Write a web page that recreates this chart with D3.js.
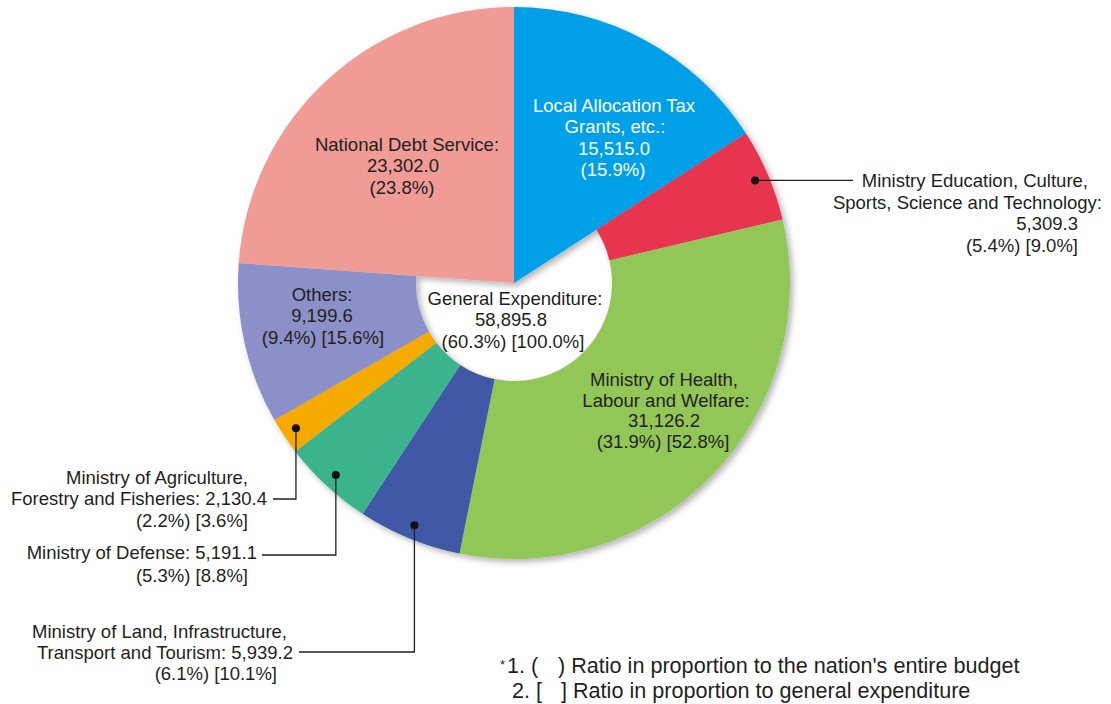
<!DOCTYPE html>
<html>
<head>
<meta charset="utf-8">
<script src="https://cdn.jsdelivr.net/npm/d3@7"></script>
<style>
  html, body { margin: 0; padding: 0; background: #fff; }
  svg { display: block; }
  text { font-family: "Helvetica Neue", Helvetica, Arial, "Liberation Sans", sans-serif; fill: #231f20; }
</style>
</head>
<body>
<div id="chart"></div>
<script>
// slices, clockwise from 12 o'clock
var names = ["Local Allocation Tax Grants, etc.", "Ministry Education, Culture, Sports, Science and Technology",
  "Ministry of Health, Labour and Welfare", "Ministry of Land, Infrastructure, Transport and Tourism",
  "Ministry of Defense", "Ministry of Agriculture, Forestry and Fisheries", "Others", "National Debt Service"];
var values = [15515.0, 5309.3, 31126.2, 5939.2, 5191.1, 2130.4, 9199.6, 23302.0];
var colors = ["#00a0e9", "#e7354f", "#92c657", "#4058a6", "#3ab48d", "#f5aa00", "#8b90c8", "#f09b95"];
// slices that are not part of general expenditure reach the centre
var general = [false, true, true, true, true, true, true, false];

// label lines per slice
var labelLines = [
  ["Local Allocation Tax", "Grants, etc.:", "15,515.0", "(15.9%)"],
  ["Ministry Education, Culture,", "Sports, Science and Technology:", "5,309.3", "(5.4%) [9.0%]"],
  ["Ministry of Health,", "Labour and Welfare:", "31,126.2", "(31.9%) [52.8%]"],
  ["Ministry of Land, Infrastructure,", "Transport and Tourism: 5,939.2", "(6.1%) [10.1%]"],
  ["Ministry of Defense: 5,191.1", "(5.3%) [8.8%]"],
  ["Ministry of Agriculture,", "Forestry and Fisheries: 2,130.4", "(2.2%) [3.6%]"],
  ["Others:", "9,199.6", "(9.4%) [15.6%]"],
  ["National Debt Service:", "23,302.0", "(23.8%)"]
];
var centerLines = ["General Expenditure:", "58,895.8", "(60.3%) [100.0%]"];
var footLines = ["1. (", ") Ratio in proportion to the nation's entire budget", "2. [", "] Ratio in proportion to general expenditure"];

var width = 1111, height = 704;
var cx = 514, cy = 283, outerR = 276, innerR = 98;

var svg = d3.select("#chart").append("svg")
  .attr("width", width).attr("height", height);

var defs = svg.append("defs");
var f = defs.append("filter").attr("id", "shadow")
  .attr("x", "-10%").attr("y", "-10%").attr("width", "120%").attr("height", "120%");
f.append("feDropShadow").attr("dx", 3).attr("dy", 3).attr("stdDeviation", 3)
  .attr("flood-color", "#000").attr("flood-opacity", 0.3);

var pie = d3.pie().sort(null).value(function(d) { return d; });
var arcs = pie(values);

var arcOuter = d3.arc().outerRadius(outerR)
  .innerRadius(function(d) { return general[d.index] ? innerR : 0; });
var arcDot = d3.arc().outerRadius(262).innerRadius(262);

var g = svg.append("g").attr("transform", "translate(" + cx + "," + cy + ")");

g.append("g").attr("filter", "url(#shadow)")
  .selectAll("path")
  .data(arcs)
  .enter()
  .append("path")
  .attr("d", arcOuter)
  .attr("fill", function(d) { return colors[d.index]; });

// label layout: anchor, x per line, first baseline, line step
var fs = 18.5;
var labelPos = [
  { anchor: "middle", x: [614, 615, 614, 613], y: 112, step: 21.3, fill: "#fff" },
  { anchor: "end", x: [1088, 1102, 1078, 1078], y: 187, step: 21.5 },
  { anchor: "middle", x: [664, 666, 664, 663], y: 386, step: 20.6 },
  { anchor: "end", x: [287, 293, 277], y: 638, step: 21 },
  { anchor: "end", x: [257, 248], y: 559, step: 22.5 },
  { anchor: "end", x: [248, 267, 248], y: 484, step: 21.3 },
  { anchor: "middle", x: [322, 322, 323], y: 301, step: 21.4 },
  { anchor: "middle", x: [407, 403, 402], y: 151, step: 21.4 }
];

labelLines.forEach(function(lines, i) {
  var p = labelPos[i];
  var t = svg.append("text")
    .attr("font-size", fs)
    .attr("text-anchor", p.anchor)
    .style("fill", p.fill || "#231f20");
  lines.forEach(function(s, k) {
    t.append("tspan").attr("x", p.x[k]).attr("y", p.y + k * p.step).text(s);
  });
});

var ct = svg.append("text").attr("font-size", fs).attr("text-anchor", "middle");
centerLines.forEach(function(s, k) {
  ct.append("tspan").attr("x", [515, 511, 513][k]).attr("y", 305 + k * 21.3).text(s);
});

// leader lines for small slices: slice index, label-side x, horizontal y (null = level with dot)
var leaders = [
  { i: 1, x: 853, y: null },
  { i: 5, x: 273, y: 499 },
  { i: 4, x: 262, y: 555 },
  { i: 3, x: 299, y: 652 }
];
leaders.forEach(function(l) {
  var c = arcDot.centroid(arcs[l.i]);
  var dx = cx + c[0], dy = cy + c[1];
  var pts;
  if (l.y === null) pts = [[dx, dy], [l.x, dy]];
  else pts = [[dx, dy], [dx, l.y], [l.x, l.y]];
  svg.append("path")
    .attr("d", d3.line()(pts))
    .attr("fill", "none")
    .attr("stroke", "#231f20")
    .attr("stroke-width", 1.3);
  svg.append("circle").attr("cx", dx).attr("cy", dy).attr("r", 4).attr("fill", "#111");
});

// footnote
var ff = 21.6;
svg.append("text").attr("x", 500).attr("y", 669).attr("font-size", 13).text("*");
svg.append("text").attr("x", 507).attr("y", 673).attr("font-size", ff).text(footLines[0]);
svg.append("text").attr("x", 558).attr("y", 673).attr("font-size", ff).text(footLines[1]);
svg.append("text").attr("x", 512).attr("y", 698).attr("font-size", ff).text(footLines[2]);
svg.append("text").attr("x", 561).attr("y", 698).attr("font-size", ff).text(footLines[3]);
</script>
</body>
</html>
